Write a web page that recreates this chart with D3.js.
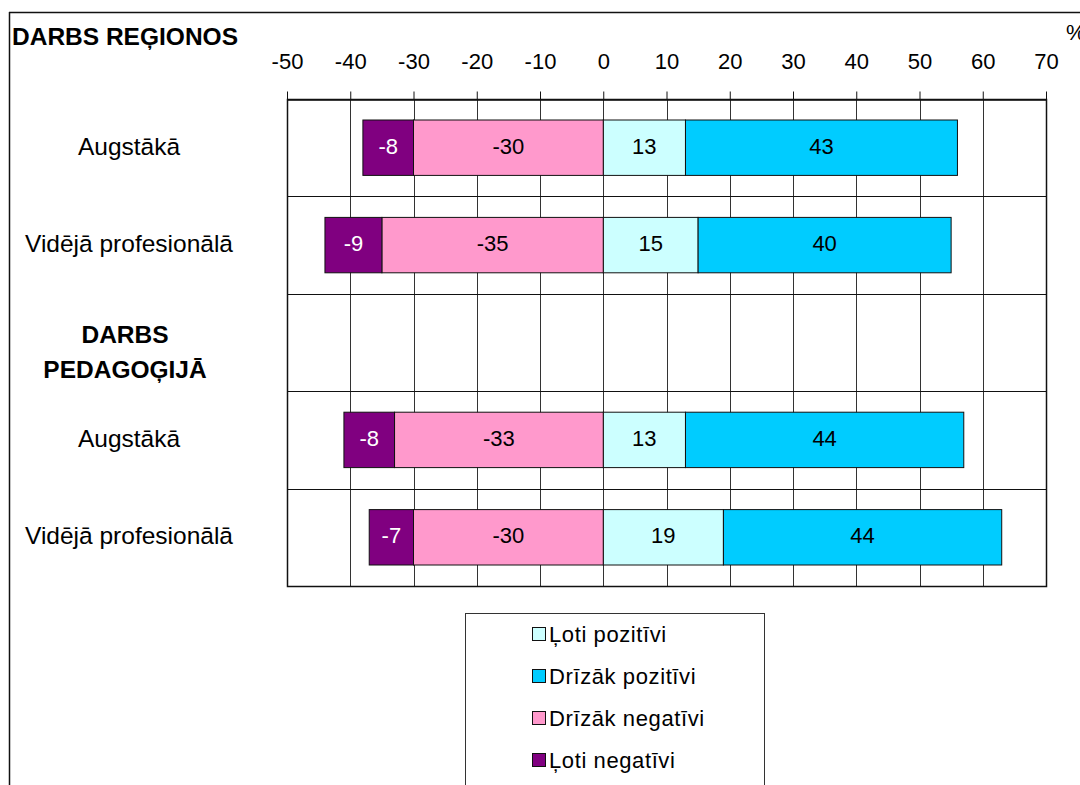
<!DOCTYPE html>
<html>
<head>
<meta charset="utf-8">
<script src="https://cdn.jsdelivr.net/npm/d3@7"></script>
<style>
  html, body { margin: 0; padding: 0; background: #fff; }
  svg { display: block; }
  text { font-family: Arial, "Liberation Sans", sans-serif; }
</style>
</head>
<body>
<svg id="chart" width="1080" height="785"></svg>
<script>
// Rows of the chart (an empty row carries the second section heading)
const categories = ["r1", "r2", "gap", "r4", "r5"];
const rowLabels = ["Augstākā", "Vidējā profesionālā", "", "Augstākā", "Vidējā profesionālā"];

// Shares in percent per answer group
const lotiNegativi   = [-8, -9, null, -8, -7];
const drizakNegativi = [-30, -35, null, -33, -30];
const lotiPozitivi   = [13, 15, null, 13, 19];
const drizakPozitivi = [43, 40, null, 44, 44];

const tickValues = [-50, -40, -30, -20, -10, 0, 10, 20, 30, 40, 50, 60, 70];

const seriesNames  = ["Ļoti pozitīvi", "Drīzāk pozitīvi", "Drīzāk negatīvi", "Ļoti negatīvi"];
const seriesColors = ["#ccffff", "#00ccff", "#ff99cc", "#800080"];

const svg = d3.select("#chart");

const x = d3.scaleLinear().domain([-50, 70]).range([287, 1046]);
const y = d3.scaleBand().domain(categories).range([99, 586]).paddingInner(0).paddingOuter(0);
const barPad = 21;

// outer frame (top and left edge)
svg.append("line").attr("x1", 9).attr("x2", 1080).attr("y1", 12.5).attr("y2", 12.5)
  .attr("stroke", "#111").attr("stroke-width", 1.5);
svg.append("line").attr("x1", 9.5).attr("x2", 9.5).attr("y1", 12).attr("y2", 785)
  .attr("stroke", "#111").attr("stroke-width", 1.5);

// vertical grid
svg.append("g").selectAll("line").data(tickValues).join("line")
  .attr("x1", d => Math.round(x(d)) + 0.5).attr("x2", d => Math.round(x(d)) + 0.5)
  .attr("y1", 99).attr("y2", 586)
  .attr("stroke", "#333").attr("stroke-width", 1);

// horizontal row separators
svg.append("g").selectAll("line").data(categories.slice(1)).join("line")
  .attr("x1", 287).attr("x2", 1046)
  .attr("y1", d => Math.round(y(d)) + 0.5).attr("y2", d => Math.round(y(d)) + 0.5)
  .attr("stroke", "#111").attr("stroke-width", 1);

// top axis
const axis = d3.axisTop(x).tickValues(tickValues).tickFormat(d => String(d))
  .tickSize(8).tickPadding(23).tickSizeOuter(0);
const ax = svg.append("g").attr("transform", "translate(0,99.5)").call(axis);
ax.select(".domain").attr("stroke", "#111").attr("stroke-width", 1.5);
ax.selectAll(".tick line").attr("stroke", "#111");
ax.selectAll(".tick text").attr("font-size", 22).attr("fill", "#000")
  .attr("font-family", "Arial, 'Liberation Sans', sans-serif");

// plot frame
svg.append("rect").attr("x", 287.5).attr("y", 99.5).attr("width", 759).attr("height", 487)
  .attr("fill", "none").attr("stroke", "#111").attr("stroke-width", 1.5);

// stacked bars: positives grow right from zero, negatives grow left
const stackBuild = (vals, prevs) => categories.map((c, i) => {
  if (vals[i] == null) return null;
  const base = prevs.reduce((s, p) => s + (p[i] || 0), 0);
  return { cat: c, x0: base, x1: base + vals[i], v: vals[i] };
});
const segments = [
  { vals: lotiPozitivi,   prev: [],               color: seriesColors[0], text: "#000" },
  { vals: drizakPozitivi, prev: [lotiPozitivi],   color: seriesColors[1], text: "#000" },
  { vals: drizakNegativi, prev: [],               color: seriesColors[2], text: "#000" },
  { vals: lotiNegativi,   prev: [drizakNegativi], color: seriesColors[3], text: "#fff" }
];
segments.forEach(seg => {
  const data = stackBuild(seg.vals, seg.prev).filter(d => d);
  const g = svg.append("g");
  g.selectAll("rect").data(data).join("rect")
    .attr("x", d => x(Math.min(d.x0, d.x1)))
    .attr("width", d => Math.abs(x(d.x1) - x(d.x0)))
    .attr("y", d => y(d.cat) + barPad)
    .attr("height", y.bandwidth() - 2 * barPad)
    .attr("fill", seg.color).attr("stroke", "#111").attr("stroke-width", 1);
  g.selectAll("text").data(data).join("text")
    .attr("x", d => x((d.x0 + d.x1) / 2))
    .attr("y", d => y(d.cat) + y.bandwidth() / 2 - 2)
    .attr("dy", "0.36em").attr("text-anchor", "middle")
    .attr("font-size", 22).attr("fill", seg.text)
    .text(d => d.v);
});

// row labels
svg.append("g").selectAll("text").data(categories.map((c, i) => ({ c, t: rowLabels[i] }))).join("text")
  .attr("x", 129).attr("y", d => y(d.c) + y.bandwidth() / 2 - 2)
  .attr("dy", "0.36em").attr("text-anchor", "middle")
  .attr("font-size", 24.5).attr("fill", "#000")
  .text(d => d.t);

// section headings
svg.append("text").attr("x", 12).attr("y", 45).attr("font-size", 24.5).attr("font-weight", "bold")
  .text("DARBS REĢIONOS");
const sec = svg.append("text").attr("text-anchor", "middle").attr("font-size", 24.5).attr("font-weight", "bold");
sec.append("tspan").attr("x", 125).attr("y", y("gap") + 49).text("DARBS");
sec.append("tspan").attr("x", 125).attr("y", y("gap") + 84).text("PEDAGOĢIJĀ");

// unit mark
svg.append("text").attr("x", 1066).attr("y", 40).attr("font-size", 22).text("%");

// legend
const lg = svg.append("g");
lg.append("rect").attr("x", 465.5).attr("y", 613.5).attr("width", 299).attr("height", 180)
  .attr("fill", "#fff").attr("stroke", "#333").attr("stroke-width", 1);
seriesNames.forEach((n, i) => {
  const cy = 634 + i * 42;
  lg.append("rect").attr("x", 532.5).attr("y", cy - 6.5).attr("width", 13).attr("height", 13)
    .attr("fill", seriesColors[i]).attr("stroke", "#111").attr("stroke-width", 1);
  lg.append("text").attr("x", 549).attr("y", cy).attr("dy", "0.36em")
    .attr("font-size", 22).style("letter-spacing", "0.6px").text(n);
});
</script>
</body>
</html>
